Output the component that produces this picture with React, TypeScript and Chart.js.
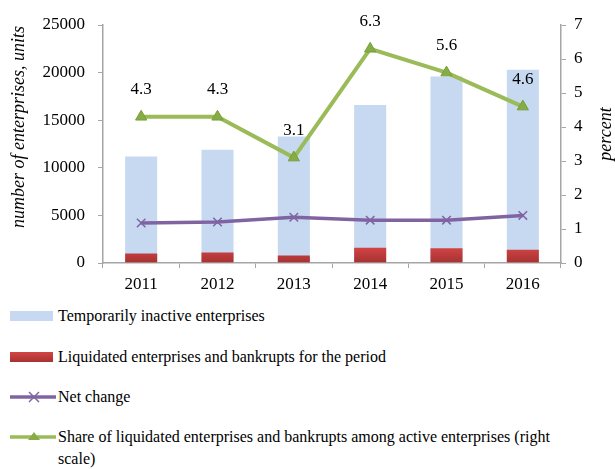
import React, { useEffect, useRef } from "react";
import { Chart, registerables } from "chart.js";

Chart.register(...registerables);

const years = ["2011", "2012", "2013", "2014", "2015", "2016"];
const inactive = [11200, 11900, 13300, 16600, 19600, 20300];
const liquidated = [1000, 1100, 800, 1600, 1550, 1400];
const netChange = [4200, 4300, 4800, 4500, 4500, 5000];
const sharePct = [4.3, 4.3, 3.1, 6.3, 5.6, 4.6];

const leftTicks = [0, 5000, 10000, 15000, 20000, 25000];
const rightTicks = [0, 1, 2, 3, 4, 5, 6, 7];

const legendLabels = [
  "Temporarily inactive enterprises",
  "Liquidated enterprises and bankrupts for the period",
  "Net change",
  "Share of liquidated enterprises and bankrupts among active enterprises (right",
  "scale)",
];
const leftTitle = "number of enterprises, units";
const rightTitle = "percent";

const SERIF = "'Liberation Serif', 'Times New Roman', serif";
const AXIS = "#a6a6a6";

export default function App() {
  const ref = useRef<HTMLCanvasElement>(null);

  useEffect(() => {
    if (!ref.current) return;
    const labelPlugin = {
      id: "extras",
      afterDatasetsDraw(chart: any) {
        const ctx = chart.ctx;
        ctx.save();
        const meta = chart.getDatasetMeta(3);
        ctx.fillStyle = "#000";
        ctx.font = `17px ${SERIF}`;
        ctx.textAlign = "center";
        ctx.textBaseline = "middle";
        meta.data.forEach((pt: any, i: number) => {
          ctx.fillText(sharePct[i].toFixed(1), pt.x, pt.y - 27);
        });
        ctx.font = `italic 18px ${SERIF}`;
        ctx.translate(19, 127);
        ctx.rotate(-Math.PI / 2);
        ctx.fillText(leftTitle, 0, 0);
        ctx.restore();
        ctx.save();
        ctx.fillStyle = "#000";
        ctx.font = `italic 18px ${SERIF}`;
        ctx.textAlign = "center";
        ctx.textBaseline = "middle";
        ctx.translate(606, 134);
        ctx.rotate(-Math.PI / 2);
        ctx.fillText(rightTitle, 0, 0);
        ctx.restore();
      },
    };

    const redFill = (c: any) => {
      const { ctx, chartArea } = c.chart;
      if (!chartArea) return "#c94040";
      const g = ctx.createLinearGradient(0, chartArea.bottom - 16, 0, chartArea.bottom);
      g.addColorStop(0, "#d44444");
      g.addColorStop(1, "#a53232");
      return g;
    };

    const plain = (v: any) => String(v);

    const chart = new Chart(ref.current, {
      type: "bar",
      data: {
        labels: years,
        datasets: [
          {
            type: "bar",
            label: legendLabels[0],
            data: inactive,
            backgroundColor: "#c6d9f1",
            grouped: false,
            order: 3,
            yAxisID: "y",
          } as any,
          {
            type: "bar",
            label: legendLabels[1],
            data: liquidated,
            backgroundColor: redFill,
            grouped: false,
            order: 2,
            yAxisID: "y",
          } as any,
          {
            type: "line",
            label: legendLabels[2],
            data: netChange,
            borderColor: "#8064a2",
            borderWidth: 3.5,
            pointStyle: "crossRot",
            pointRadius: 6,
            pointBorderColor: "#8064a2",
            pointBorderWidth: 1.5,
            order: 1,
            yAxisID: "y",
          },
          {
            type: "line",
            label: legendLabels[3],
            data: sharePct,
            borderColor: "#9bbb59",
            borderWidth: 4,
            pointStyle: "triangle",
            pointRadius: 6.5,
            pointBackgroundColor: "#86ad45",
            pointBorderColor: "#77a03a",
            pointBorderWidth: 1,
            order: 0,
            yAxisID: "y1",
          },
        ],
      },
      options: {
        animation: false,
        responsive: false,
        maintainAspectRatio: false,
        layout: { padding: { top: 25, left: 0, right: 0, bottom: 0 } },
        datasets: {
          bar: { barPercentage: 0.42, categoryPercentage: 1 },
        } as any,
        plugins: {
          legend: { display: false },
          tooltip: { enabled: false },
        },
        scales: {
          x: {
            grid: {
              display: true,
              drawOnChartArea: false,
              offset: true,
              tickLength: 5,
              color: AXIS,
            },
            border: { color: AXIS, width: 1.5 },
            ticks: { color: "#000", font: { family: SERIF, size: 17 }, padding: 6 },
            afterFit: (s: any) => {
              s.height = 37;
            },
          },
          y: {
            position: "left",
            min: 0,
            max: 25000,
            afterBuildTicks: (s: any) => {
              s.ticks = leftTicks.map((v) => ({ value: v }));
            },
            grid: { display: true, drawOnChartArea: false, tickLength: 5, color: AXIS },
            border: { color: AXIS, width: 1.5 },
            ticks: { color: "#000", font: { family: SERIF, size: 17 }, padding: 13, callback: plain },
            afterFit: (s: any) => {
              s.width = 103;
            },
          },
          y1: {
            position: "right",
            min: 0,
            max: 7,
            afterBuildTicks: (s: any) => {
              s.ticks = rightTicks.map((v) => ({ value: v }));
            },
            grid: { display: true, drawOnChartArea: false, tickLength: 5, color: AXIS },
            border: { color: AXIS, width: 1.5 },
            ticks: { color: "#000", font: { family: SERIF, size: 17 }, padding: 8, callback: plain },
            afterFit: (s: any) => {
              s.width = 54;
            },
          },
        },
      },
      plugins: [labelPlugin],
    });
    return () => chart.destroy();
  }, []);

  const textStyle: React.CSSProperties = {
    position: "absolute",
    left: 58,
    fontFamily: SERIF,
    fontSize: 16,
    lineHeight: "22px",
    color: "#000",
    whiteSpace: "nowrap",
  };

  return (
    <div
      style={{
        position: "fixed",
        left: 0,
        top: 0,
        width: 615,
        height: 469,
        background: "#fff",
        overflow: "hidden",
      }}
    >
      <canvas ref={ref} width={615} height={300} style={{ position: "absolute", left: 0, top: 0 }} />
      {/* legend */}
      <div style={{ position: "absolute", left: 10, top: 311, width: 43, height: 10, background: "#c6d9f1" }} />
      <div style={{ ...textStyle, top: 305 }}>{legendLabels[0]}</div>
      <div
        style={{
          position: "absolute",
          left: 10,
          top: 352,
          width: 43,
          height: 10,
          background: "linear-gradient(#d44444, #a53232)",
        }}
      />
      <div style={{ ...textStyle, top: 346 }}>{legendLabels[1]}</div>
      <svg style={{ position: "absolute", left: 8, top: 390 }} width={50} height={14}>
        <line x1={2} y1={7} x2={48} y2={7} stroke="#8064a2" strokeWidth={3.5} />
        <line x1={21} y1={2} x2={31} y2={12} stroke="#8064a2" strokeWidth={1.5} />
        <line x1={31} y1={2} x2={21} y2={12} stroke="#8064a2" strokeWidth={1.5} />
      </svg>
      <div style={{ ...textStyle, top: 386 }}>{legendLabels[2]}</div>
      <svg style={{ position: "absolute", left: 8, top: 430 }} width={50} height={14}>
        <line x1={2} y1={7} x2={48} y2={7} stroke="#9bbb59" strokeWidth={3.5} />
        <polygon points="26,2 32,10 20,10" fill="#86ad45" />
      </svg>
      <div style={{ ...textStyle, top: 426 }}>
        {legendLabels[3]}
        <br />
        {legendLabels[4]}
      </div>
    </div>
  );
}
